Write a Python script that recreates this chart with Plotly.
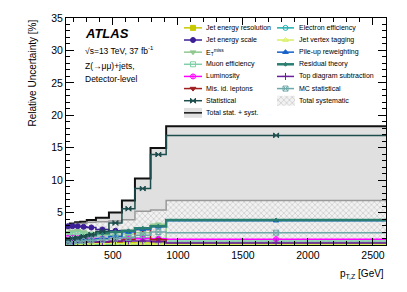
import plotly.graph_objects as go

# ---------------- data ----------------
edges = [140, 170, 210, 250, 300, 370, 470, 570, 670, 790, 910, 2600]
x_ticks = [500, 1000, 1500, 2000, 2500]
y_ticks = [5, 10, 15, 20, 25, 30, 35]

total_stat_syst = [2.6, 3.3, 3.5, 3.6, 3.85, 4.2, 5.0, 6.85, 10.25, 14.95, 18.3]
total_syst = [2.5, 3.1, 3.3, 3.3, 3.5, 3.6, 3.7, 3.9, 5.2, 5.4, 6.85]
statistical = [0.9, 1.0, 1.1, 1.3, 1.6, 2.1, 3.4, 5.6, 8.7, 13.95, 16.9]
jet_energy_resolution = [0.6, 0.5, 0.5, 0.45, 0.4, 0.4, 0.4, 0.35, 0.3, 0.3, 0.25]
jet_energy_scale = [2.9, 2.9, 2.9, 2.8, 2.7, 2.4, 2.2, 1.0, 1.0, 0.8, 0.4]
etmiss = [1.9, 2.1, 2.2, 2.0, 1.8, 1.6, 1.5, 1.7, 1.9, 3.2, 0.3]
muon_efficiency = [1.5, 1.6, 1.7, 1.6, 1.5, 1.4, 1.3, 1.3, 1.1, 1.0, 0.6]
luminosity = [1.1, 1.1, 1.05, 1.0, 1.0, 1.0, 1.0, 1.0, 1.0, 0.95, 0.9]
mis_id_leptons = [0.2, 0.2, 0.3, 0.3, 0.3, 0.4, 0.5, 0.8, 2.4, 0.8, 0.15]
electron_efficiency = [0.05, 0.05, 0.05, 0.05, 0.05, 0.05, 0.05, 0.05, 0.05, 0.05, 0.05]
jet_vertex_tagging = [0.3, 0.25, 0.25, 0.2, 0.2, 0.2, 0.2, 0.15, 0.15, 0.1, 0.1]
pileup_reweighting = [0.5, 0.5, 0.6, 0.7, 0.8, 1.0, 1.3, 2.0, 2.4, 2.8, 3.75]
residual_theory = [0.9, 1.0, 1.1, 1.3, 1.5, 1.8, 2.0, 2.2, 2.6, 2.9, 3.85]
top_subtraction = [0.5, 0.5, 0.5, 0.5, 0.5, 0.5, 0.6, 0.6, 0.6, 0.5, 0.3]
mc_statistical = [0.5, 0.5, 0.6, 0.6, 0.7, 0.8, 1.0, 1.1, 1.5, 2.0, 1.9]

FONT = "Liberation Sans, Arial, Helvetica, sans-serif"

centers = [(a + b) / 2 for a, b in zip(edges[:-1], edges[1:])]


def step_y(vals):
    return list(vals) + [vals[-1]]


# series: (label, values, color, symbol, size, line width)
col1 = [
    ("Jet energy resolution", jet_energy_resolution, "#c8c800", "square", 5, 1.5),
    ("Jet energy scale", jet_energy_scale, "#3c1e96", "circle", 5, 1.5),
    ("E<sub>T</sub><sup>miss</sup>", etmiss, "#90c890", "triangle-down", 5, 1.5),
    ("Muon efficiency", muon_efficiency, "#7fd0a8", "square-open", 5, 1.5),
    ("Luminosity", luminosity, "#ff00ff", "circle-cross-open", 5, 1.5),
    ("Mis. id. leptons", mis_id_leptons, "#a01e1e", "triangle-down", 5, 1.5),
    ("Statistical", statistical, "#1e4d4d", "bowtie", 5, 1.5),
]
col2 = [
    ("Electron efficiency", electron_efficiency, "#1fb0b0", "circle-open", 5, 1.5),
    ("Jet vertex tagging", jet_vertex_tagging, "#d8f060", "triangle-up-open", 5, 1.5),
    ("Pile-up reweighting", pileup_reweighting, "#1460c8", "triangle-up", 5, 1.5),
    ("Residual theory", residual_theory, "#2a7f70", "diamond", 3, 2.5),
    ("Top diagram subtraction", top_subtraction, "#6a1e9a", "cross-thin-open", 5, 1.5),
    ("MC statistical", mc_statistical, "#6fa8a8", "square-x-open", 5, 1.5),
]

HATCH = dict(shape="x", fgcolor="#9a9a9a", bgcolor="#f2f2f2", size=4, solidity=0.3)

fig = go.Figure()

# total stat + syst (gray fill, black line)
fig.add_trace(go.Scatter(
    x=edges, y=step_y(total_stat_syst), mode="lines", line_shape="hv",
    line=dict(color="#111111", width=2), fill="tozeroy", fillcolor="#e0e0e0",
    showlegend=False, hoverinfo="skip"))

# total systematic (hatched)
fig.add_trace(go.Scatter(
    x=edges, y=step_y(total_syst), mode="lines", line_shape="hv",
    line=dict(color="#999999", width=1.5), fill="tozeroy", fillpattern=HATCH,
    showlegend=False, hoverinfo="skip"))

draw_order = [s for s in col1 if s[0] != "Statistical"] + col2 + [s for s in col1 if s[0] == "Statistical"]
for label, vals, color, sym, size, lw in draw_order:
    fig.add_trace(go.Scatter(
        x=edges, y=step_y(vals), mode="lines", line_shape="hv",
        line=dict(color=color, width=lw), showlegend=False, hoverinfo="skip"))
    fig.add_trace(go.Scatter(
        x=centers, y=vals, mode="markers",
        marker=dict(symbol=sym, size=size, color=color,
                    line=dict(color=color, width=1)),
        showlegend=False, hoverinfo="skip"))

# ---------------- manual legend (paper coords via overlay axes) ----------------
L, R, T, B = 66, 21, 15, 47
W, H = 407, 292
pw, ph = W - L - R, H - T - B


def px2x(px):
    return (px - L) / pw


def py2y(py):
    return (H - B - py) / ph


row0, dy = 25.0, 12.3
annotations = []


def legend_text(px, py, text):
    annotations.append(dict(xref="paper", yref="paper", x=px2x(px), y=py2y(py),
                            text=text, showarrow=False, xanchor="left", yanchor="middle",
                            font=dict(family=FONT, size=7, color="black")))


def legend_line_marker(x0, x1, py, color, sym, size, lw):
    fig.add_trace(go.Scatter(
        x=[px2x(x0), px2x(x1)], y=[py2y(py), py2y(py)], mode="lines",
        line=dict(color=color, width=lw), xaxis="x2", yaxis="y2",
        showlegend=False, hoverinfo="skip"))
    fig.add_trace(go.Scatter(
        x=[px2x((x0 + x1) / 2)], y=[py2y(py)], mode="markers",
        marker=dict(symbol=sym, size=size, color=color, line=dict(color=color, width=1)),
        xaxis="x2", yaxis="y2", showlegend=False, hoverinfo="skip"))


for i, (label, vals, color, sym, size, lw) in enumerate(col1):
    py = row0 + i * dy
    legend_line_marker(184, 202, py, color, sym, size, lw)
    legend_text(204, py, label)

for i, (label, vals, color, sym, size, lw) in enumerate(col2):
    py = row0 + i * dy
    legend_line_marker(277, 294, py, color, sym, size, lw)
    legend_text(297, py, label)

# total stat + syst legend entry
py = row0 + 7 * dy
fig.add_trace(go.Scatter(
    x=[px2x(184), px2x(202), px2x(202), px2x(184), px2x(184)],
    y=[py2y(py - 5), py2y(py - 5), py2y(py + 5), py2y(py + 5), py2y(py - 5)],
    mode="lines", line=dict(width=0), fill="toself", fillcolor="#e0e0e0",
    xaxis="x2", yaxis="y2", showlegend=False, hoverinfo="skip"))
fig.add_trace(go.Scatter(
    x=[px2x(184), px2x(202)], y=[py2y(py), py2y(py)], mode="lines",
    line=dict(color="#111111", width=1.5), xaxis="x2", yaxis="y2",
    showlegend=False, hoverinfo="skip"))
legend_text(204, py, "Total stat. + syst.")

# total systematic legend entry
py = row0 + 6 * dy
fig.add_trace(go.Scatter(
    x=[px2x(277), px2x(295), px2x(295), px2x(277), px2x(277)],
    y=[py2y(py - 5), py2y(py - 5), py2y(py + 5), py2y(py + 5), py2y(py - 5)],
    mode="lines", line=dict(width=0), fill="toself", fillpattern=HATCH,
    xaxis="x2", yaxis="y2", showlegend=False, hoverinfo="skip"))
legend_text(297, py, "Total systematic")

# ---------------- text ----------------
annotations += [
    dict(xref="paper", yref="paper", x=px2x(83), y=py2y(31), text="<b><i>ATLAS</i></b>",
         showarrow=False, xanchor="left", yanchor="middle",
         font=dict(family=FONT, size=13, color="black")),
    dict(xref="paper", yref="paper", x=px2x(83), y=py2y(47.5),
         text="√s=13 TeV, 37 fb<sup>-1</sup>",
         showarrow=False, xanchor="left", yanchor="middle",
         font=dict(family=FONT, size=8.5, color="black")),
    dict(xref="paper", yref="paper", x=px2x(83), y=py2y(63.5), text="Z(→μμ)+jets,",
         showarrow=False, xanchor="left", yanchor="middle",
         font=dict(family=FONT, size=8.5, color="black")),
    dict(xref="paper", yref="paper", x=px2x(83), y=py2y(77), text="Detector-level",
         showarrow=False, xanchor="left", yanchor="middle",
         font=dict(family=FONT, size=8.5, color="black")),
    dict(xref="paper", yref="paper", x=1, y=py2y(266), text="p<sub>T,Z</sub> [GeV]",
         showarrow=False, xanchor="right", yanchor="top",
         font=dict(family=FONT, size=10, color="black")),
    dict(xref="paper", yref="paper", x=px2x(32), y=1.0, text="Relative Uncertainty [%]",
         showarrow=False, xanchor="center", yanchor="top", textangle=-90,
         font=dict(family=FONT, size=10, color="black")),
]

axis_common = dict(showgrid=False, zeroline=False, showline=True, linecolor="black",
                   linewidth=1, mirror="allticks", ticks="inside", tickcolor="black",
                   tickfont=dict(family=FONT, size=10.5, color="black"))

fig.update_layout(
    width=W, height=H, margin=dict(l=L, r=R, t=T, b=B),
    paper_bgcolor="white", plot_bgcolor="white",
    showlegend=False,
    xaxis=dict(range=[edges[0], edges[-1]], tickvals=x_ticks, ticklen=7,
               minor=dict(dtick=100, ticks="inside", ticklen=4, tickcolor="black"),
               **axis_common),
    yaxis=dict(range=[0, 35], tickvals=y_ticks, ticklen=8,
               minor=dict(dtick=1, ticks="inside", ticklen=4, tickcolor="black"),
               **axis_common),
    xaxis2=dict(range=[0, 1], overlaying="x", visible=False, fixedrange=True),
    yaxis2=dict(range=[0, 1], overlaying="y", visible=False, fixedrange=True, anchor="x2"),
    annotations=annotations,
)

fig.write_html(
    "out.html",
    config={"displayModeBar": False, "staticPlot": True},
    post_script="document.body.style.margin='0';document.body.style.padding='0';",
)
